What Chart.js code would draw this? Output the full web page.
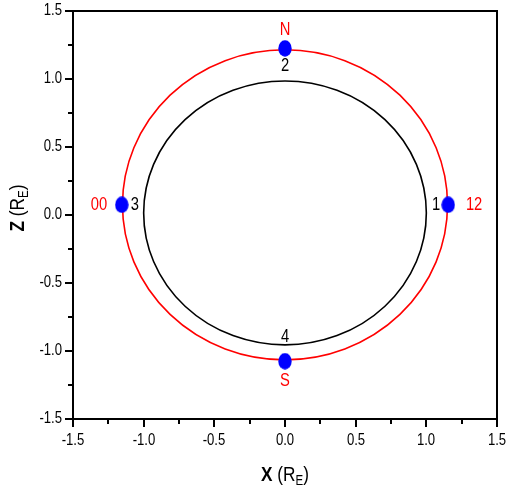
<!DOCTYPE html>
<html>
<head>
<meta charset="utf-8">
<script src="https://cdn.jsdelivr.net/npm/chart.js@4.4.0/dist/chart.umd.min.js"></script>
<style>
  html, body { margin: 0; padding: 0; background: #fff; }
</style>
</head>
<body>
<canvas id="myChart" width="510" height="494"></canvas>
<script>
// axis range and tick labels (both axes the same)
const axisMin = -1.5;
const axisMax = 1.5;
const tickLabels = ["-1.5", "-1.0", "-0.5", "0.0", "0.5", "1.0", "1.5"];

// the two rings: black = Earth, red = orbit
const ringNames = ["Earth", "Orbit"];
const ringCenterX = [0, 0];
const ringCenterZ = [0.015, 0.075];
const ringRadiusX = [1.0, 1.15];
const ringRadiusZ = [0.97, 1.14];

// blue positions
const pointX = [1.155, 0, -1.155, 0];
const pointZ = [0.075, 1.225, 0.075, -1.075];

// numbered labels (black) and sector labels (red)
const numberText = ["1", "2", "3", "4"];
const numberX = [1.069, 0, -1.062, 0];
const numberZ = [0.074, 1.095, 0.074, -0.897];
const sectorText = ["12", "N", "00", "S"];
const sectorX = [1.338, 0, -1.316, 0];
const sectorZ = [0.074, 1.36, 0.074, -1.224];

const FONT = "'Liberation Sans', Arial, sans-serif";
const NARROW = 0.82; // squeeze to look like Arial Narrow

function dotImage() {
  const c = document.createElement("canvas");
  c.width = 14;
  c.height = 17;
  const g = c.getContext("2d");
  g.fillStyle = "#0000ff";
  g.beginPath();
  g.ellipse(7, 8.5, 6.7, 8.2, 0, 0, Math.PI * 2);
  g.fill();
  return c;
}

function isMajor(v) {
  return Math.abs(v * 2 - Math.round(v * 2)) < 1e-6;
}

function tickCallback(v) {
  if (!isMajor(v)) return "";
  return tickLabels[Math.round((v - axisMin) * 2)];
}

// narrow text drawn at (x, y)
function narrowText(ctx, text, x, y, align) {
  ctx.save();
  ctx.translate(x, y);
  ctx.scale(NARROW, 1);
  ctx.textAlign = align;
  ctx.textBaseline = "middle";
  ctx.fillText(text, 0, 0);
  ctx.restore();
}

function drawRichTitle(ctx, cx, cy, rot, letter) {
  const pieces = [
    { t: letter, f: "bold 21px " + FONT, dy: 0 },
    { t: " (R", f: "21px " + FONT, dy: 0 },
    { t: "E", f: "14px " + FONT, dy: 6 },
    { t: ")", f: "21px " + FONT, dy: 0 },
  ];
  ctx.save();
  ctx.translate(cx, cy);
  ctx.rotate(rot);
  ctx.scale(NARROW, 1);
  let w = 0;
  pieces.forEach((p) => {
    ctx.font = p.f;
    p.w = ctx.measureText(p.t).width;
    w += p.w;
  });
  let x = -w / 2;
  ctx.fillStyle = "#000";
  ctx.textBaseline = "middle";
  ctx.textAlign = "left";
  pieces.forEach((p) => {
    ctx.font = p.f;
    ctx.fillText(p.t, x, p.dy);
    x += p.w;
  });
  ctx.restore();
}

const extras = {
  id: "extras",
  beforeDatasetsDraw(chart) {
    const ctx = chart.ctx;
    const xs = chart.scales.x;
    const ys = chart.scales.y;
    const colors = ["#000000", "#ff0000"];
    ctx.save();
    for (let i = 0; i < ringNames.length; i++) {
      const cx = xs.getPixelForValue(ringCenterX[i]);
      const cy = ys.getPixelForValue(ringCenterZ[i]);
      const rx = xs.getPixelForValue(ringCenterX[i] + ringRadiusX[i]) - cx;
      const ry = cy - ys.getPixelForValue(ringCenterZ[i] + ringRadiusZ[i]);
      ctx.beginPath();
      ctx.ellipse(cx, cy, rx, ry, 0, 0, Math.PI * 2);
      ctx.strokeStyle = colors[i];
      ctx.lineWidth = 1.6;
      ctx.stroke();
    }
    ctx.restore();
  },
  afterDraw(chart) {
    const ctx = chart.ctx;
    const xs = chart.scales.x;
    const ys = chart.scales.y;
    const a = chart.chartArea;
    const left = Math.round(a.left);
    const bottom = Math.round(a.bottom);
    ctx.save();
    // frame
    ctx.strokeStyle = "#000";
    ctx.lineWidth = 2;
    ctx.strokeRect(a.left, a.top, a.right - a.left, a.bottom - a.top);
    // ticks and tick labels
    ctx.fillStyle = "#000";
    ctx.font = "16px " + FONT;
    for (let k = 0; k <= 12; k++) {
      const v = axisMin + k * 0.25;
      const major = k % 2 === 0;
      const len = major ? 7 : 4;
      const px = Math.round(xs.getPixelForValue(v));
      const py = Math.round(ys.getPixelForValue(v));
      ctx.fillRect(px - 1, bottom, 2, len + 1);
      ctx.fillRect(left - len - 1, py - 1, len + 1, 2);
      if (major) {
        const txt = tickLabels[k / 2];
        narrowText(ctx, txt, px, bottom + 22, "center");
        narrowText(ctx, txt, left - 11, py, "right");
      }
    }
    // text labels
    ctx.font = "18px " + FONT;
    ctx.fillStyle = "#000";
    for (let i = 0; i < numberText.length; i++) {
      narrowText(ctx, numberText[i], xs.getPixelForValue(numberX[i]), ys.getPixelForValue(numberZ[i]), "center");
    }
    ctx.fillStyle = "#ff0000";
    for (let i = 0; i < sectorText.length; i++) {
      narrowText(ctx, sectorText[i], xs.getPixelForValue(sectorX[i]), ys.getPixelForValue(sectorZ[i]), "center");
    }
    ctx.restore();
    // axis titles
    drawRichTitle(ctx, (a.left + a.right) / 2, 475, 0, "X");
    drawRichTitle(ctx, 18, (a.top + a.bottom) / 2 - 7, -Math.PI / 2, "Z");
  },
};

function scaleOptions(isX) {
  return {
    type: "linear",
    min: axisMin,
    max: axisMax,
    ticks: {
      stepSize: 0.25,
      autoSkip: false,
      maxRotation: 0,
      callback: tickCallback,
      color: "rgba(0,0,0,0)",
      font: { family: FONT, size: 12 },
    },
    grid: {
      drawOnChartArea: false,
      tickLength: 6,
      tickColor: "rgba(0,0,0,0)",
    },
    border: { color: "#000", width: 2 },
    afterFit: (s) => {
      if (isX) s.height = 75;
      else s.width = 73;
    },
  };
}

const dot = dotImage();
const config = {
  type: "scatter",
  data: {
    datasets: [
      {
        label: "positions",
        data: pointX.map((x, i) => ({ x: x, y: pointZ[i] })),
        pointStyle: dot,
        pointRadius: 8,
        pointHoverRadius: 8,
      },
    ],
  },
  options: {
    responsive: false,
    animation: false,
    layout: { padding: { left: 0, top: 11, right: 13, bottom: 0 } },
    plugins: {
      legend: { display: false },
      tooltip: { enabled: false },
    },
    scales: {
      x: scaleOptions(true),
      y: scaleOptions(false),
    },
  },
  plugins: [extras],
};

new Chart(document.getElementById("myChart"), config);
</script>
</body>
</html>
